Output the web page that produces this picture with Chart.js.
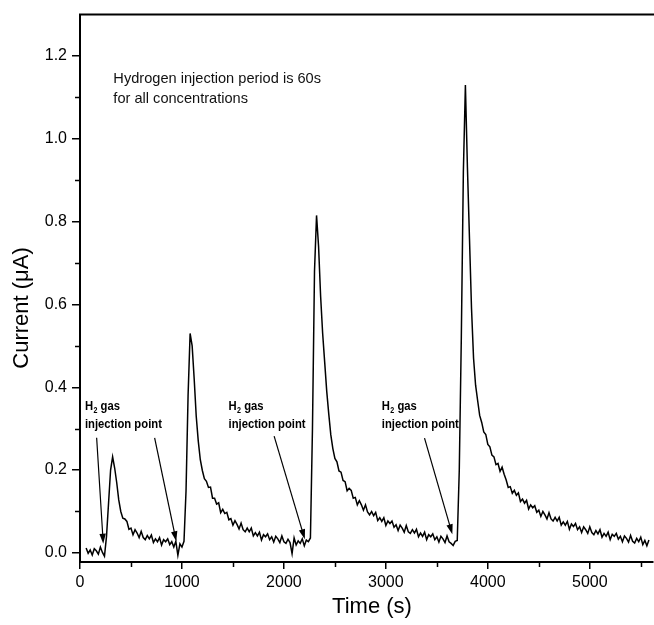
<!DOCTYPE html>
<html>
<head>
<meta charset="utf-8">
<script src="https://cdn.jsdelivr.net/npm/chart.js@4.4.1/dist/chart.umd.min.js"></script>
<style>
  html, body { margin: 0; padding: 0; background: #fff; overflow: hidden; }
  canvas { display: block; }
</style>
</head>
<body>
<canvas id="chart" width="654" height="625"></canvas>
<script>
// sensor current, one reading every 20 s starting at t = 60 s
const sampleStart = 60;
const sampleStep = 20;
const currentUA = [
  // 60-240
  0.012, -0.001, 0.007, -0.005, 0.010, 0.005, -0.003, 0.014, 0.001, -0.008,
  // 260-440
  0.040, 0.120, 0.200, 0.232, 0.205, 0.170, 0.128, 0.100, 0.084, 0.082,
  // 460-640
  0.076, 0.057, 0.060, 0.044, 0.056, 0.048, 0.037, 0.052, 0.037, 0.032,
  // 660-840
  0.042, 0.034, 0.043, 0.025, 0.034, 0.027, 0.037, 0.019, 0.032, 0.027,
  // 860-1040
  0.034, 0.020, 0.027, 0.014, 0.028, -0.006, 0.022, 0.014, 0.028, 0.150,
  // 1060-1240
  0.380, 0.530, 0.500, 0.420, 0.330, 0.270, 0.225, 0.199, 0.179, 0.173,
  // 1260-1440
  0.158, 0.159, 0.132, 0.132, 0.118, 0.121, 0.097, 0.105, 0.095, 0.098,
  // 1460-1640
  0.080, 0.083, 0.067, 0.078, 0.069, 0.058, 0.072, 0.056, 0.051, 0.060,
  // 1660-1840
  0.051, 0.060, 0.041, 0.049, 0.041, 0.050, 0.031, 0.044, 0.039, 0.046,
  // 1860-2040
  0.032, 0.039, 0.026, 0.040, 0.034, 0.025, 0.041, 0.027, 0.023, 0.033,
  // 2060-2240
  0.025, -0.002, 0.036, 0.019, 0.029, 0.023, 0.034, 0.017, 0.031, 0.027,
  // 2260-2440
  0.036, 0.300, 0.680, 0.815, 0.740, 0.620, 0.530, 0.460, 0.390, 0.335,
  // 2460-2640
  0.285, 0.252, 0.228, 0.220, 0.198, 0.195, 0.175, 0.172, 0.150, 0.156,
  // 2660-2840
  0.151, 0.132, 0.134, 0.116, 0.126, 0.116, 0.103, 0.116, 0.099, 0.092,
  // 2860-3040
  0.100, 0.090, 0.098, 0.078, 0.085, 0.076, 0.085, 0.066, 0.077, 0.071,
  // 3060-3240
  0.077, 0.062, 0.068, 0.054, 0.067, 0.060, 0.050, 0.066, 0.051, 0.047,
  // 3260-3440
  0.056, 0.048, 0.057, 0.039, 0.048, 0.040, 0.050, 0.032, 0.044, 0.039,
  // 3460-3640
  0.046, 0.032, 0.039, 0.026, 0.040, 0.034, 0.025, 0.041, 0.027, 0.023,
  // 3660-3840
  0.018, 0.028, 0.030, 0.200, 0.520, 0.920, 1.130, 0.930, 0.760, 0.590,
  // 3860-4040
  0.470, 0.405, 0.368, 0.332, 0.315, 0.292, 0.286, 0.262, 0.256, 0.236,
  // 4060-4240
  0.232, 0.213, 0.216, 0.197, 0.207, 0.190, 0.176, 0.158, 0.160, 0.144,
  // 4260-4440
  0.151, 0.139, 0.145, 0.124, 0.130, 0.120, 0.127, 0.106, 0.116, 0.109,
  // 4460-4640
  0.114, 0.098, 0.103, 0.088, 0.100, 0.092, 0.082, 0.097, 0.082, 0.077,
  // 4660-4840
  0.086, 0.077, 0.086, 0.067, 0.075, 0.067, 0.076, 0.057, 0.070, 0.064,
  // 4860-5040
  0.071, 0.056, 0.063, 0.049, 0.063, 0.056, 0.047, 0.063, 0.049, 0.044,
  // 5060-5240
  0.054, 0.046, 0.056, 0.038, 0.047, 0.040, 0.050, 0.032, 0.045, 0.040,
  // 5260-5440
  0.047, 0.033, 0.040, 0.027, 0.041, 0.035, 0.026, 0.042, 0.028, 0.024,
  // 5460-5580
  0.035, 0.027, 0.038, 0.020, 0.030, 0.017, 0.031
];

const xTicks = [0, 1000, 2000, 3000, 4000, 5000];
const xMinorTicks = [500, 1500, 2500, 3500, 4500, 5500];
const yTicks = [0.0, 0.2, 0.4, 0.6, 0.8, 1.0, 1.2];
const yMinorTicks = [0.1, 0.3, 0.5, 0.7, 0.9, 1.1];

const xTitle = 'Time (s)';
const yTitle = 'Current (\u03bcA)';
const noteLines = ['Hydrogen injection period is 60s', 'for all concentrations'];
// injection point labels [time, current] of the first text line
const injectionLabels = [[48, 0.344], [1457, 0.344], [2960, 0.344]];
// arrows: [fromTime, fromCurrent, toTime, toCurrent]
const injectionArrows = [
  [163, 0.278, 228, 0.022],
  [732, 0.278, 944, 0.028],
  [1904, 0.282, 2205, 0.033],
  [3379, 0.277, 3652, 0.045]
];

const points = currentUA.map((v, i) => ({ x: sampleStart + i * sampleStep, y: v }));

const FONT = "'Liberation Sans', Arial, sans-serif";

function drawArrow(ctx, x1, y1, x2, y2) {
  const ang = Math.atan2(y2 - y1, x2 - x1);
  const len = 10, half = 3.2;
  ctx.beginPath();
  ctx.moveTo(x1, y1);
  ctx.lineTo(x2 - Math.cos(ang) * len * 0.8, y2 - Math.sin(ang) * len * 0.8);
  ctx.stroke();
  ctx.beginPath();
  ctx.moveTo(x2, y2);
  ctx.lineTo(x2 - Math.cos(ang) * len - Math.sin(ang) * half, y2 - Math.sin(ang) * len + Math.cos(ang) * half);
  ctx.lineTo(x2 - Math.cos(ang) * len + Math.sin(ang) * half, y2 - Math.sin(ang) * len - Math.cos(ang) * half);
  ctx.closePath();
  ctx.fill();
}

const overlay = {
  id: 'overlay',
  afterDraw(chart) {
    const { ctx, chartArea: a, scales: { x, y } } = chart;
    ctx.save();
    ctx.strokeStyle = '#000';
    ctx.fillStyle = '#000';

    // top frame line
    ctx.lineWidth = 2;
    ctx.beginPath();
    ctx.moveTo(a.left - 1, a.top);
    ctx.lineTo(a.right + 1, a.top);
    ctx.stroke();

    // minor ticks
    ctx.lineWidth = 1.5;
    ctx.beginPath();
    xMinorTicks.forEach(v => {
      const px = Math.round(x.getPixelForValue(v)) + 0.5;
      ctx.moveTo(px, a.bottom);
      ctx.lineTo(px, a.bottom + 5);
    });
    yMinorTicks.forEach(v => {
      const py = Math.round(y.getPixelForValue(v)) + 0.5;
      ctx.moveTo(a.left, py);
      ctx.lineTo(a.left - 5, py);
    });
    ctx.stroke();

    // axis titles
    ctx.font = '22px ' + FONT;
    ctx.textAlign = 'center';
    ctx.textBaseline = 'middle';
    ctx.fillText(xTitle, 372, 607);
    ctx.save();
    ctx.translate(22, 308);
    ctx.rotate(-Math.PI / 2);
    ctx.fillText(yTitle, 0, 0);
    ctx.restore();

    // note text
    ctx.textAlign = 'left';
    ctx.textBaseline = 'alphabetic';
    ctx.font = '14.6px ' + FONT;
    ctx.fillStyle = '#111';
    const nx = x.getPixelForValue(327);
    const ny = y.getPixelForValue(1.136);
    noteLines.forEach((line, i) => ctx.fillText(line, nx, ny + i * 20));

    // injection point labels, narrow bold
    ctx.fillStyle = '#000';
    ctx.font = 'bold 13.5px ' + FONT;
    const squeeze = 77 / ctx.measureText('injection point').width;
    injectionLabels.forEach(([t, v]) => {
      const lx = x.getPixelForValue(t);
      const ly = y.getPixelForValue(v);
      ctx.save();
      ctx.translate(lx, ly);
      ctx.scale(squeeze, 1);
      ctx.font = 'bold 13.5px ' + FONT;
      ctx.fillText('H', 0, 0);
      let w = ctx.measureText('H').width;
      ctx.font = 'bold 8.5px ' + FONT;
      ctx.fillText('2', w + 0.5, 3);
      w += ctx.measureText('2').width + 0.5;
      ctx.font = 'bold 13.5px ' + FONT;
      ctx.fillText(' gas', w, 0);
      ctx.fillText('injection point', 0, 18);
      ctx.restore();
    });

    // arrows
    ctx.lineWidth = 1.2;
    injectionArrows.forEach(([t1, v1, t2, v2]) => {
      drawArrow(ctx, x.getPixelForValue(t1), y.getPixelForValue(v1),
                x.getPixelForValue(t2), y.getPixelForValue(v2));
    });
    ctx.restore();
  }
};

new Chart(document.getElementById('chart'), {
  type: 'line',
  data: {
    datasets: [{
      data: points,
      borderColor: '#000',
      borderWidth: 1.5,
      pointRadius: 0,
      tension: 0,
      fill: false
    }]
  },
  options: {
    responsive: false,
    animation: false,
    devicePixelRatio: 1,
    layout: { padding: { top: 11, right: 1, left: 0, bottom: 0 } },
    plugins: { legend: { display: false }, tooltip: { enabled: false } },
    scales: {
      x: {
        type: 'linear',
        min: 0,
        max: 5620,
        afterBuildTicks: s => { s.ticks = xTicks.map(value => ({ value })); },
        afterFit: s => { s.height = 63; },
        border: { display: true, color: '#000', width: 2 },
        grid: { drawOnChartArea: false, drawTicks: true, tickLength: 7, color: '#000', lineWidth: 1.5 },
        ticks: { color: '#000', font: { family: FONT, size: 16 }, padding: 4, maxRotation: 0, callback: v => String(v) }
      },
      y: {
        type: 'linear',
        min: -0.022,
        max: 1.3,
        afterBuildTicks: s => { s.ticks = yTicks.map(value => ({ value })); },
        afterFit: s => { s.width = 80; },
        border: { display: true, color: '#000', width: 2 },
        grid: { drawOnChartArea: false, drawTicks: true, tickLength: 8, color: '#000', lineWidth: 1.5 },
        ticks: { color: '#000', font: { family: FONT, size: 16 }, padding: 5, callback: v => v.toFixed(1) }
      }
    }
  },
  plugins: [overlay]
});
</script>
</body>
</html>
